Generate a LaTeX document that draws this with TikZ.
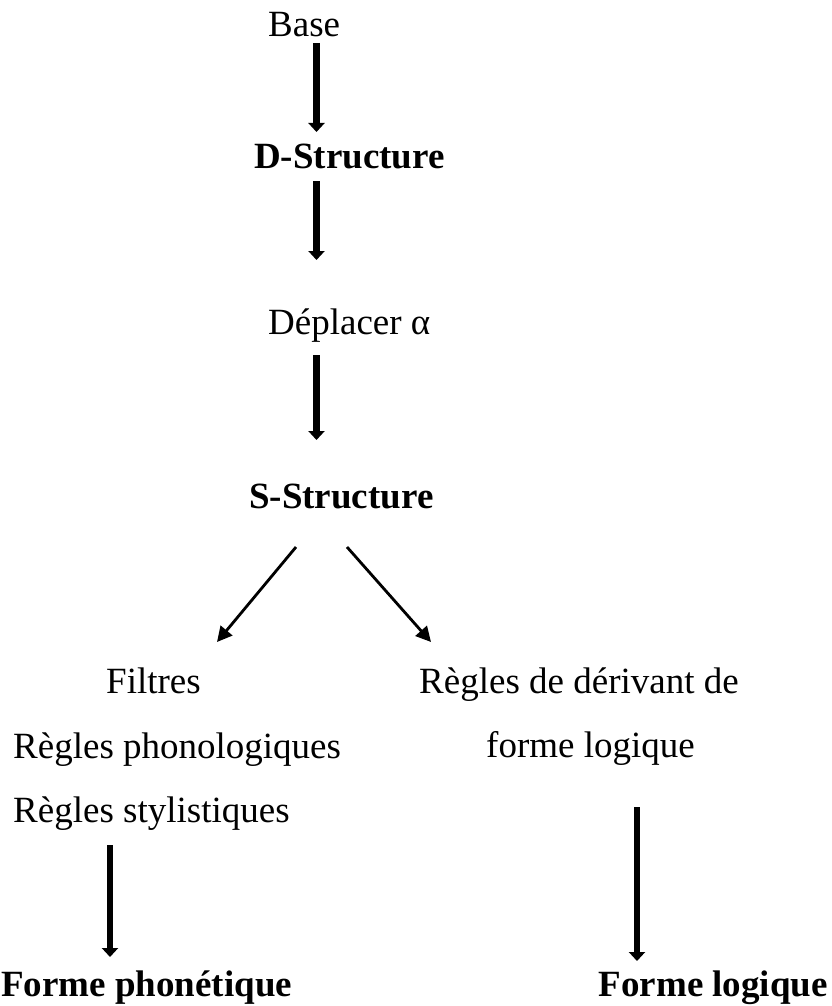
\documentclass[tikz,border=0pt]{standalone}
\usepackage{fontspec}
\setmainfont{Liberation Serif}
\usetikzlibrary{arrows.meta}
\begin{document}
\begin{tikzpicture}[x=1pt,y=-1pt,
  txt/.style={inner sep=0pt,anchor=base west,font=\fontsize{37}{44}\selectfont},
  btxt/.style={txt,font=\fontsize{37}{44}\selectfont\bfseries},
  thickarrow/.style={line width=6.5pt,-{Triangle[width=16pt,length=9pt]}},
  thinarrow/.style={line width=2.8pt,-{Triangle[width=15pt,length=15pt]}}]
\useasboundingbox (0,0) rectangle (832,1006);
\node[txt] (base) at (268,37) {Base};
\node[btxt] (ds) at (254,168) {D-Structure};
\node[txt] (dep) at (268,334) {Déplacer α};
\node[btxt] (ss) at (249,508) {S-Structure};
\node[txt] (filt) at (106,693) {Filtres};
\node[txt] (rdd) at (419,693) {Règles de dérivant de};
\node[txt] (rph) at (13,758) {Règles phonologiques};
\node[txt] (fl1) at (486,757) {forme logique};
\node[txt] (rst) at (13,822) {Règles stylistiques};
\node[btxt] (fp) at (1,996) {Forme phonétique};
\node[btxt,anchor=base east] (fl) at (828,996) {Forme logique};
\coordinate (a1s) at (316.5,43);  \coordinate (a1e) at (316.5,132);
\coordinate (a2s) at (316.5,181); \coordinate (a2e) at (316.5,260);
\coordinate (a3s) at (316.5,355); \coordinate (a3e) at (316.5,440);
\coordinate (l1s) at (296,547); \coordinate (l1e) at (217,642);
\coordinate (r1s) at (347,547); \coordinate (r1e) at (431,642);
\coordinate (a4s) at (110,845); \coordinate (a4e) at (110,957);
\coordinate (a5s) at (637,807); \coordinate (a5e) at (637,961);
\draw[thickarrow] (a1s) -- (a1e);
\draw[thickarrow] (a2s) -- (a2e);
\draw[thickarrow] (a3s) -- (a3e);
\draw[thinarrow] (l1s) -- (l1e);
\draw[thinarrow] (r1s) -- (r1e);
\draw[thickarrow] (a4s) -- (a4e);
\draw[thickarrow] (a5s) -- (a5e);
\end{tikzpicture}
\end{document}
